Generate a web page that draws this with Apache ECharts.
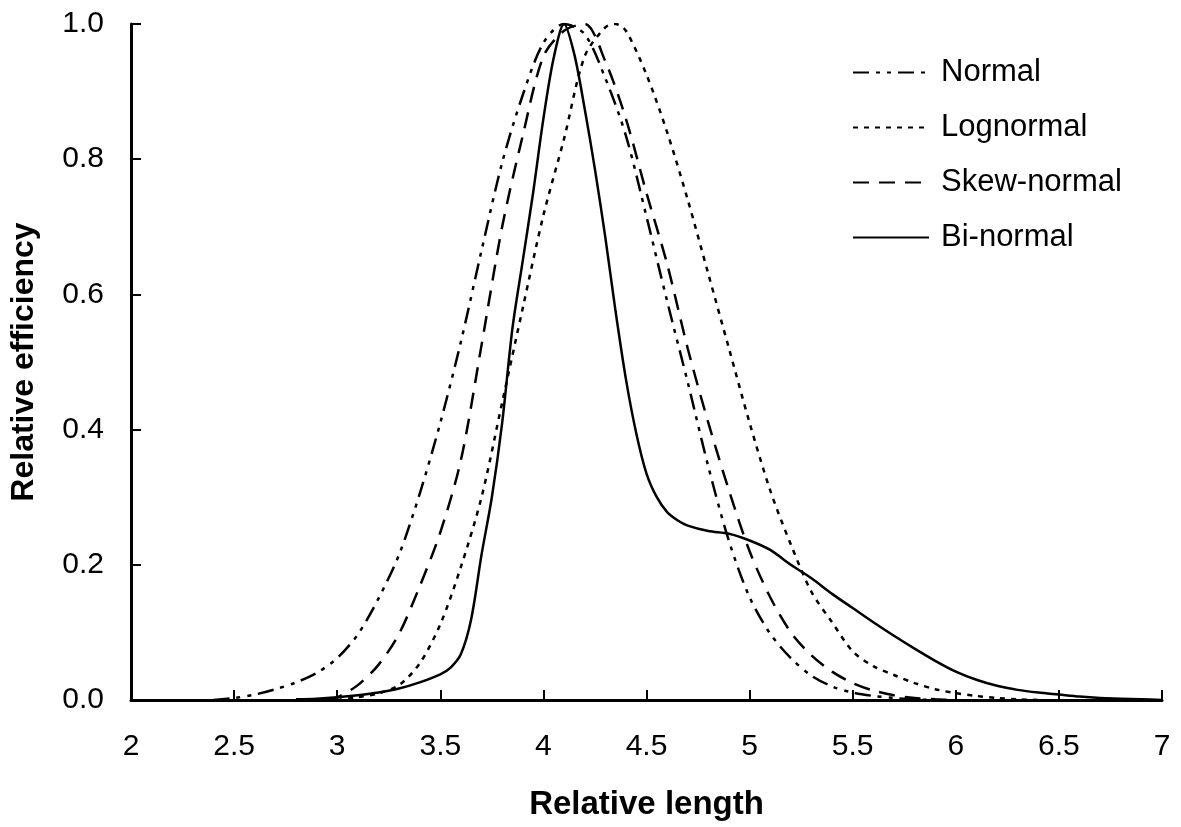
<!DOCTYPE html>
<html lang="en">
<head>
<meta charset="UTF-8">
<title>Relative efficiency vs relative length</title>
<script src="https://cdn.jsdelivr.net/npm/echarts@6.0.0/dist/echarts.min.js"></script>
<style>
  html, body { margin: 0; padding: 0; background: #fff; }
  #chart { width: 1181px; height: 827px; }
</style>
</head>
<body>
<div id="chart"></div>
<script>
// values
const seriesNames = ['Normal', 'Lognormal', 'Skew-normal', 'Bi-normal']

const normalX = [2.4, 2.5, 2.6, 2.7, 2.8, 2.9, 3.0, 3.1, 3.2, 3.3, 3.4, 3.5, 3.6, 3.7, 3.8, 3.9, 4.0, 4.1, 4.2, 4.3, 4.4, 4.5, 4.6, 4.7, 4.8, 4.9, 5.0, 5.1, 5.2, 5.3, 5.4, 5.5, 5.6, 5.7, 5.8, 5.9]
const normalY = [0, 0.003, 0.008, 0.016, 0.026, 0.04, 0.062, 0.097, 0.15, 0.215, 0.305, 0.41, 0.53, 0.665, 0.795, 0.895, 0.972, 1.0, 0.985, 0.92, 0.835, 0.715, 0.59, 0.47, 0.345, 0.235, 0.152, 0.098, 0.062, 0.036, 0.02, 0.011, 0.006, 0.003, 0.001, 0]

const lognormalX = [3.0, 3.1, 3.2, 3.3, 3.4, 3.5, 3.6, 3.7, 3.8, 3.9, 4.0, 4.1, 4.2, 4.3, 4.35, 4.4, 4.5, 4.6, 4.7, 4.8, 4.9, 5.0, 5.1, 5.2, 5.3, 5.4, 5.5, 5.6, 5.7, 5.8, 5.9, 6.0, 6.1, 6.2, 6.3, 6.4]
const lognormalY = [0, 0.004, 0.01, 0.022, 0.054, 0.112, 0.197, 0.3, 0.44, 0.58, 0.717, 0.83, 0.952, 0.995, 1.0, 0.99, 0.925, 0.84, 0.74, 0.63, 0.52, 0.41, 0.31, 0.23, 0.16, 0.115, 0.072, 0.05, 0.037, 0.025, 0.016, 0.01, 0.006, 0.003, 0.001, 0]

const skewX = [2.95, 3.0, 3.1, 3.2, 3.3, 3.4, 3.5, 3.6, 3.7, 3.8, 3.9, 4.0, 4.1, 4.2, 4.3, 4.4, 4.5, 4.6, 4.7, 4.8, 4.9, 5.0, 5.1, 5.2, 5.3, 5.4, 5.5, 5.6, 5.7, 5.8, 5.9, 6.0]
const skewY = [0, 0.004, 0.022, 0.052, 0.098, 0.168, 0.248, 0.355, 0.525, 0.7, 0.835, 0.952, 0.99, 1.0, 0.945, 0.86, 0.75, 0.645, 0.52, 0.41, 0.31, 0.22, 0.152, 0.1, 0.066, 0.042, 0.025, 0.014, 0.007, 0.003, 0.001, 0]

const binormalX = [2.8, 2.9, 3.0, 3.1, 3.2, 3.3, 3.4, 3.5, 3.55, 3.6, 3.65, 3.7, 3.75, 3.8, 3.85, 3.9, 3.95, 4.0, 4.05, 4.1, 4.15, 4.2, 4.25, 4.3, 4.35, 4.4, 4.45, 4.5, 4.55, 4.6, 4.65, 4.7, 4.8, 4.9, 5.0, 5.1, 5.2, 5.3, 5.4, 5.5, 5.6, 5.7, 5.8, 5.9, 6.0, 6.1, 6.2, 6.3, 6.4, 6.5, 6.6, 6.7, 6.8, 6.9, 7.0]
const binormalY = [0.001, 0.002, 0.004, 0.007, 0.011, 0.017, 0.026, 0.038, 0.048, 0.068, 0.12, 0.215, 0.3, 0.41, 0.55, 0.65, 0.75, 0.86, 0.95, 1.0, 0.955, 0.875, 0.785, 0.685, 0.575, 0.475, 0.395, 0.335, 0.3, 0.278, 0.266, 0.258, 0.25, 0.246, 0.236, 0.222, 0.2, 0.18, 0.157, 0.136, 0.115, 0.095, 0.076, 0.058, 0.042, 0.03, 0.021, 0.015, 0.011, 0.008, 0.005, 0.003, 0.002, 0.001, 0]

const font = '"Liberation Sans", Arial, sans-serif'

const pairs = (xs, ys) => xs.map((x, i) => [x, ys[i]])

const makeLine = (name, xs, ys, dash) => ({
  name: name,
  type: 'line',
  data: pairs(xs, ys),
  smooth: 0.3,
  symbol: 'none',
  lineStyle: { color: '#000', width: 2.5, type: dash, cap: 'butt' },
  itemStyle: { color: 'rgba(0,0,0,0)' },
  z: 3,
})

const myChart = echarts.init(document.getElementById('chart'))

const option = {
  animation: false,
  backgroundColor: '#fff',
  grid: { left: 130, right: 19, top: 24, bottom: 127, containLabel: false },
  legend: {
    data: seriesNames,
    orient: 'vertical',
    left: 852,
    top: 57,
    padding: 0,
    itemWidth: 76,
    itemHeight: 14,
    itemGap: 24,
    itemStyle: { opacity: 0 },
    textStyle: { fontFamily: font, fontSize: 31, color: '#000', padding: [0, 0, 0, 7] },
  },
  xAxis: {
    type: 'value',
    min: 2,
    max: 7,
    interval: 0.5,
    name: 'Relative length',
    nameLocation: 'middle',
    nameGap: 88,
    nameTextStyle: { fontFamily: font, fontSize: 33, fontWeight: 'bold', color: '#000' },
    axisLine: { show: true, lineStyle: { color: '#000', width: 3 } },
    axisTick: { show: true, inside: true, length: 10, lineStyle: { color: '#000', width: 2 } },
    axisLabel: { margin: 32, fontFamily: font, fontSize: 30, color: '#000' },
    splitLine: { show: false },
  },
  yAxis: {
    type: 'value',
    min: 0,
    max: 1,
    interval: 0.2,
    name: 'Relative efficiency',
    nameLocation: 'middle',
    nameGap: 91,
    nameTextStyle: { fontFamily: font, fontSize: 32, fontWeight: 'bold', color: '#000' },
    axisLine: { show: true, lineStyle: { color: '#000', width: 3 } },
    axisTick: { show: true, inside: true, length: 10, lineStyle: { color: '#000', width: 2 } },
    axisLabel: { margin: 27, fontFamily: font, fontSize: 30, color: '#000', formatter: v => v.toFixed(1) },
    splitLine: { show: false },
  },
  series: [
    makeLine('Normal', normalX, normalY, [16, 7, 4, 7, 4, 7]),
    makeLine('Lognormal', lognormalX, lognormalY, [5, 6]),
    makeLine('Skew-normal', skewX, skewY, [16, 10]),
    makeLine('Bi-normal', binormalX, binormalY, 'solid'),
  ],
}

myChart.setOption(option)
</script>
</body>
</html>
